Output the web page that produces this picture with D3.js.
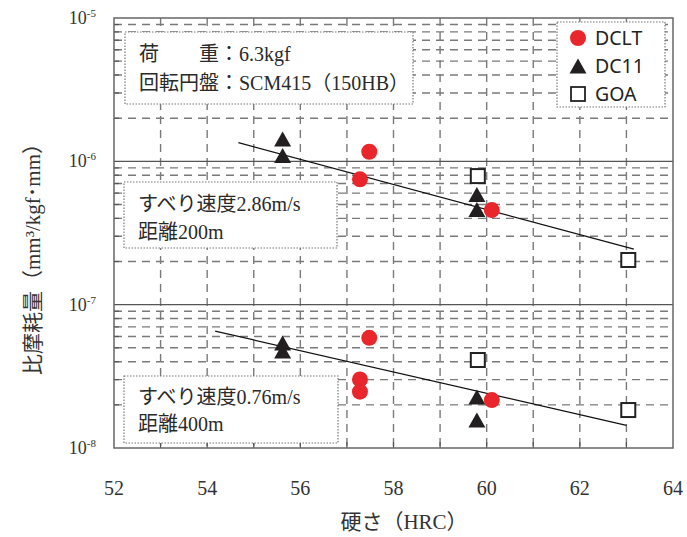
<!DOCTYPE html>
<html><head><meta charset="utf-8">
<script src="https://cdn.jsdelivr.net/npm/d3@7"></script>
<style>body{margin:0;background:#fff}</style>
</head><body><svg id="c" width="687" height="537"></svg>
<script>
// ---- data ----
const xTicks = [52, 54, 56, 58, 60, 62, 64];
const yDecades = [-5, -6, -7, -8];
const dcltX = [57.48, 57.28, 60.11, 57.48, 57.28, 57.28, 60.11];
const dcltY = [1.167e-6, 7.49e-7, 4.57e-7, 5.87e-8, 3.01e-8, 2.47e-8, 2.16e-8];
const dc11X = [55.62, 55.62, 59.79, 59.79, 55.62, 55.62, 59.79, 59.79];
const dc11Y = [1.43e-6, 1.097e-6, 5.87e-7, 4.61e-7, 5.40e-8, 4.75e-8, 2.27e-8, 1.57e-8];
const goaX = [59.81, 63.04, 59.81, 63.04];
const goaY = [7.89e-7, 2.05e-7, 4.11e-8, 1.84e-8];
const trendUpperX = [54.67, 63.16];
const trendUpperY = [1.349e-6, 2.44e-7];
const trendLowerX = [54.17, 63.0];
const trendLowerY = [6.54e-8, 1.44e-8];
const legendNames = ["DCLT", "DC11", "GOA"];
const box1Lines = ["荷　　重：6.3kgf", "回転円盤：SCM415（150HB）"];
const box2Lines = ["すべり速度2.86m/s", "距離200m"];
const box3Lines = ["すべり速度0.76m/s", "距離400m"];
const xTitle = "硬さ（HRC）";
const yTitle = "比摩耗量（mm³/kgf･mm）";

// ---- layout ----
const L = 114, R = 673, T = 18, B = 448;
const svg = d3.select("#c");
const serif = "'Liberation Serif','Noto Sans CJK JP',serif";
const x = d3.scaleLinear().domain([52, 64]).range([L, R]);
const y = d3.scaleLog().domain([1e-8, 1e-5]).range([B, T]);
const red = "#e8262b", dark = "#231f20", gridC = "#7a7a7a";

// minor grid (horizontal dashed)
const minor = [];
[-6, -7, -8].forEach(e => { for (let k = 2; k <= 9; k++) minor.push(k * Math.pow(10, e)); });
svg.append("g").selectAll("line").data(minor).join("line")
  .attr("x1", L).attr("x2", R).attr("y1", d => y(d)).attr("y2", d => y(d))
  .attr("stroke", gridC).attr("stroke-width", 1.4).attr("stroke-dasharray", "8,6");
// vertical dashed grid
svg.append("g").selectAll("line").data(d3.range(53, 64)).join("line")
  .attr("x1", d => x(d)).attr("x2", d => x(d)).attr("y1", T).attr("y2", B)
  .attr("stroke", gridC).attr("stroke-width", 1.4).attr("stroke-dasharray", "8,6");
// decade lines
svg.append("g").selectAll("line").data([1e-6, 1e-7]).join("line")
  .attr("x1", L).attr("x2", R).attr("y1", d => y(d)).attr("y2", d => y(d))
  .attr("stroke", "#555").attr("stroke-width", 1.3);
// inward ticks left
svg.append("g").selectAll("line").data(minor).join("line")
  .attr("x1", L).attr("x2", L + 5).attr("y1", d => y(d)).attr("y2", d => y(d))
  .attr("stroke", "#555").attr("stroke-width", 1.2);
// inward ticks bottom
svg.append("g").selectAll("line").data(d3.range(53, 64)).join("line")
  .attr("x1", d => x(d)).attr("x2", d => x(d)).attr("y1", B).attr("y2", B - 6)
  .attr("stroke", "#555").attr("stroke-width", 1.2);

// text boxes
function textBox(x0, y0, x1, y1, lines, baselines) {
  svg.append("rect").attr("x", x0).attr("y", y0).attr("width", x1 - x0).attr("height", y1 - y0)
    .attr("fill", "#fff").attr("stroke", "#777").attr("stroke-width", 1.2).attr("stroke-dasharray", "1.5,1.5");
  lines.forEach((t, i) => svg.append("text").attr("x", x0 + 14).attr("y", baselines[i])
    .attr("font-family", serif).attr("font-size", 20).attr("fill", "#2a2a2a").text(t));
}
textBox(125, 32, 413, 104, box1Lines, [61, 90]);
textBox(124, 182, 337, 248, box2Lines, [211, 239]);
textBox(124, 376, 338, 443, box3Lines, [404, 431]);

// frame
svg.append("rect").attr("x", L).attr("y", T).attr("width", R - L).attr("height", B - T)
  .attr("fill", "none").attr("stroke", "#666").attr("stroke-width", 1.5);

// trend lines
const line = d3.line().x(d => x(d[0])).y(d => y(d[1]));
[[trendUpperX, trendUpperY], [trendLowerX, trendLowerY]].forEach(([xs, ys]) => {
  svg.append("path").attr("d", line(xs.map((v, i) => [v, ys[i]])))
    .attr("fill", "none").attr("stroke", "#111").attr("stroke-width", 1.2);
});

// markers
const triPath = (cx, cy) => `M${cx},${cy - 7.5}L${cx + 8.5},${cy + 7.5}L${cx - 8.5},${cy + 7.5}Z`;
svg.append("g").selectAll("path").data(dc11X.map((v, i) => [v, dc11Y[i]])).join("path")
  .attr("d", d => triPath(x(d[0]), y(d[1]))).attr("fill", dark);
svg.append("g").selectAll("rect").data(goaX.map((v, i) => [v, goaY[i]])).join("rect")
  .attr("x", d => x(d[0]) - 7).attr("y", d => y(d[1]) - 7).attr("width", 14).attr("height", 14)
  .attr("fill", "#fff").attr("stroke", "#222").attr("stroke-width", 2);
svg.append("g").selectAll("circle").data(dcltX.map((v, i) => [v, dcltY[i]])).join("circle")
  .attr("cx", d => x(d[0])).attr("cy", d => y(d[1])).attr("r", 8).attr("fill", red);

// legend
svg.append("rect").attr("x", 557).attr("y", 22).attr("width", 108).attr("height", 85)
  .attr("fill", "#fff").attr("stroke", "#777").attr("stroke-width", 1.2).attr("stroke-dasharray", "1.5,1.5");
const ly = [38, 66, 94];
svg.append("circle").attr("cx", 578).attr("cy", ly[0]).attr("r", 8).attr("fill", red);
svg.append("path").attr("d", triPath(578, ly[1])).attr("fill", dark);
svg.append("rect").attr("x", 571).attr("y", ly[2] - 7).attr("width", 14).attr("height", 14)
  .attr("fill", "#fff").attr("stroke", "#222").attr("stroke-width", 1.8);
legendNames.forEach((n, i) => svg.append("text").attr("x", 595).attr("y", ly[i] + 7)
  .attr("font-family", "'Noto Sans','Liberation Sans',sans-serif").attr("font-size", 19.5)
  .attr("fill", "#222").text(n));

// y tick labels
yDecades.forEach(e => {
  const t = svg.append("text").attr("x", 96).attr("y", y(Math.pow(10, e)) + 6)
    .attr("text-anchor", "end").attr("font-family", serif).attr("font-size", 18).attr("fill", "#333");
  t.append("tspan").text("10");
  t.append("tspan").attr("dy", -7).attr("font-size", 11).text("-" + Math.abs(e));
});
// x tick labels
svg.append("g").selectAll("text").data(xTicks).join("text")
  .attr("x", d => x(d)).attr("y", 495).attr("text-anchor", "middle")
  .attr("font-family", serif).attr("font-size", 20).attr("fill", "#333").text(d => d);
// axis titles
svg.append("text").attr("x", 404).attr("y", 529).attr("text-anchor", "middle")
  .attr("font-family", serif).attr("font-size", 21).attr("fill", "#333").text(xTitle);
svg.append("text").attr("transform", "translate(40,254) rotate(-90)").attr("text-anchor", "middle")
  .attr("font-family", serif).attr("font-size", 21).attr("fill", "#333").text(yTitle);
</script></body></html>
